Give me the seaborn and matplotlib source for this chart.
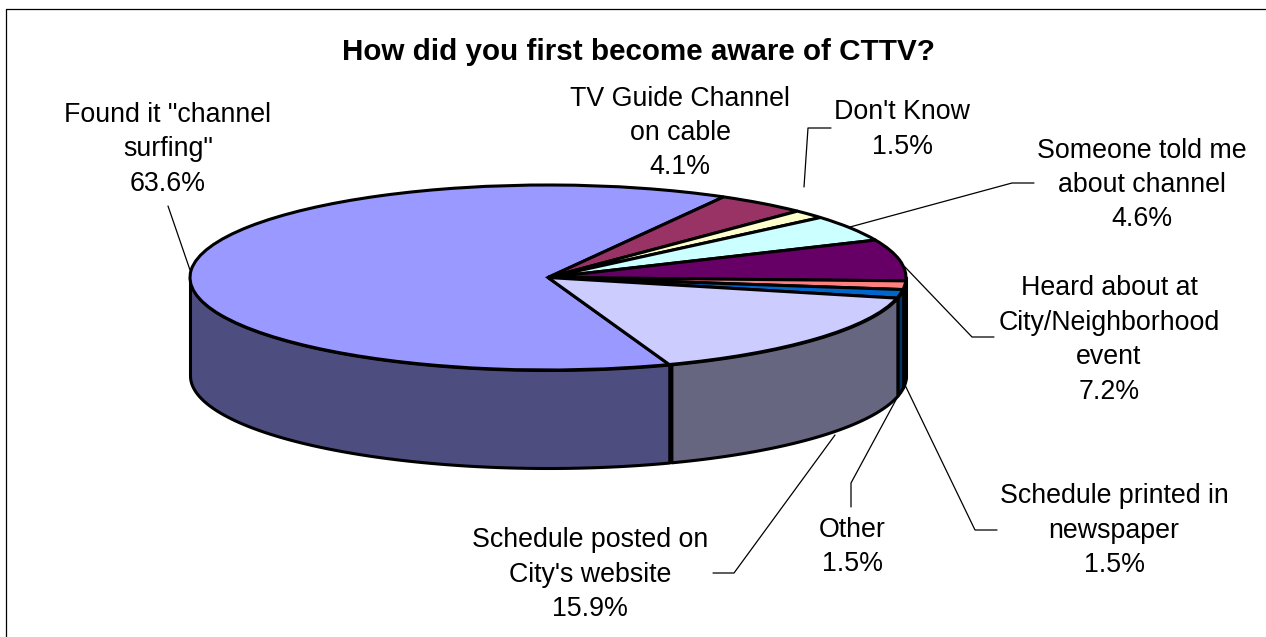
import numpy as np
import matplotlib
matplotlib.use("Agg")
import matplotlib.pyplot as plt
import seaborn as sns

sns.set_style("white")
plt.rcParams['font.family'] = ['Liberation Sans', 'DejaVu Sans']

W, H = 1266, 637

title = "How did you first become aware of CTTV?"
categories = ['Found it "channel\nsurfing"', "TV Guide Channel\non cable", "Don't Know",
              "Someone told me\nabout channel", "Heard about at\nCity/Neighborhood\nevent",
              "Other", "Schedule printed in\nnewspaper", "Schedule posted on\nCity's website"]
values = [63.6, 4.1, 1.5, 4.6, 7.2, 1.5, 1.5, 15.9]
top_colors = ["#9999FF", "#993366", "#FFFFCC", "#CCFFFF", "#660066", "#FF8080", "#0066CC", "#CCCCFF"]
wall_colors = ["#4D4D80", "#4D1A33", "#808066", "#668080", "#330033", "#804040", "#003366", "#666680"]

# ellipse geometry in pixels
cx, cy, rx, ry, depth = 548, 277.5, 358, 92.5, 98
start_angle = -70.2

# label centre (pixels) for each category
label_pos = [(168, 149.5), (680, 133), (902, 129.5), (1142, 185), (1109, 340), (852, 547), (1114, 530.5), (590, 574.5)]

# leader lines in pixels
leaders = [
    [(190, 270), (168, 206)],
    [(804, 187), (808, 128), (831, 128)],
    [(850, 227), (1012, 183), (1034, 183)],
    [(905, 267), (972, 337), (994, 337)],
    [(904, 385), (851, 483), (851, 507)],
    [(905, 385), (975, 530), (997, 530)],
    [(835, 435), (734, 573), (713, 573)],
]


def px(x, y):
    return (x - cx) / rx, (cy - y) / ry


fig = plt.figure(figsize=(W / 100, H / 100), dpi=100, facecolor="white")
ax = fig.add_axes([0, 0, 1, 1])

# side wall of the disc, only the front half shows
depth_u = depth / ry
edges = start_angle - np.cumsum([0] + values) * 3.6
for i, val in enumerate(values):
    hi, lo = edges[i], edges[i + 1]
    for shift in (0, 360):
        a = max(lo + shift, -180)
        b = min(hi + shift, 0)
        if b <= a:
            continue
        t = np.radians(np.linspace(a, b, 200))
        xs = np.cos(t)
        ax.fill_between(xs, np.sin(t), np.sin(t) - depth_u, color=wall_colors[i],
                        edgecolor="black", linewidth=2.2, zorder=1)

# top face
ax.pie(values, colors=top_colors, startangle=start_angle, counterclock=False, radius=1,
       wedgeprops=dict(edgecolor="black", linewidth=2.2, zorder=2))
ax.set_aspect("auto")
ax.set_xlim(*[px(v, 0)[0] for v in (0, W)])
ax.set_ylim(px(0, H)[1], px(0, 0)[1])
ax.axis("off")

for pts in leaders:
    p = [px(*q) for q in pts]
    ax.plot([q[0] for q in p], [q[1] for q in p], color="black", lw=0.9, zorder=3, clip_on=False)

pct = [f"{v:.1f}%" for v in values]
for name, val, (x, y) in zip(categories, pct, label_pos):
    ax.text(*px(x, y), f"{name}\n{val}", ha="center", va="center", fontsize=19.25,
            linespacing=1.42, color="black", zorder=4)

fig.text(638 / W, 1 - 52.5 / H, title, ha="center", va="center", fontsize=21.3,
         fontweight="bold", color="black")

# chart area border, top and left only
fig.add_artist(plt.Line2D([6 / W, 6 / W], [0, 1 - 9 / H], color="black", lw=0.9))
fig.add_artist(plt.Line2D([6 / W, 1], [1 - 9 / H, 1 - 9 / H], color="black", lw=0.9))

fig.savefig("out.png", dpi=100, facecolor="white")
plt.close()
